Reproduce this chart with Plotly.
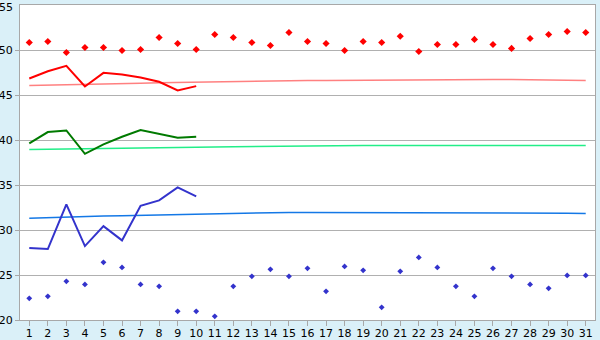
import plotly.graph_objects as go

days = list(range(1, 32))

red_points = [50.85, 50.96, 49.74, 50.3, 50.3, 49.96, 50.07, 51.41, 50.74, 50.07,
              51.74, 51.41, 50.85, 50.52, 51.96, 50.96, 50.74, 49.96, 50.96, 50.85,
              51.55, 49.85, 50.63, 50.63, 51.19, 50.63, 50.19, 51.3, 51.74, 52.07, 51.96]
red_line = [46.85, 47.65, 48.26, 45.96, 47.48, 47.3, 46.96, 46.48, 45.52, 46.0]
red_avg = [46.07, 46.1, 46.17, 46.2, 46.24, 46.3, 46.33, 46.38, 46.42, 46.45,
           46.5, 46.52, 46.54, 46.56, 46.6, 46.62, 46.63, 46.65, 46.67, 46.69,
           46.7, 46.72, 46.74, 46.74, 46.74, 46.74, 46.74, 46.7, 46.66, 46.64, 46.63]

green_line = [39.63, 40.89, 41.07, 38.48, 39.52, 40.37, 41.11, 40.67, 40.26, 40.37]
green_avg = [38.96, 38.98, 39.0, 39.05, 39.07, 39.09, 39.12, 39.17, 39.19, 39.21,
             39.24, 39.27, 39.3, 39.32, 39.35, 39.38, 39.4, 39.41, 39.41, 39.41,
             39.41, 39.41, 39.41, 39.41, 39.41, 39.41, 39.41, 39.41, 39.41, 39.41, 39.41]

blue_line = [28.0, 27.89, 32.85, 28.22, 30.44, 28.85, 32.7, 33.3, 34.74, 33.74]
blue_avg = [31.3, 31.38, 31.44, 31.5, 31.55, 31.6, 31.64, 31.7, 31.76, 31.82,
            31.86, 31.9, 31.94, 31.96, 31.96, 31.96, 31.96, 31.96, 31.96, 31.96,
            31.96, 31.96, 31.96, 31.96, 31.96, 31.96, 31.96, 31.96, 31.92, 31.88, 31.85]
blue_points = [22.41, 22.63, 24.3, 23.96, 26.41, 25.85, 23.96, 23.74, 20.96, 20.96,
               20.41, 23.74, 24.85, 25.63, 24.85, 25.74, 23.19, 25.96, 25.52, 21.41,
               25.41, 26.96, 25.85, 23.74, 22.63, 25.74, 24.85, 23.96, 23.52, 24.96, 24.96]

y_ticks = [20, 25, 30, 35, 40, 45, 50, 55]
y_top = y_ticks[-1]

fig = go.Figure()
fig.add_trace(go.Scatter(x=days, y=red_avg, mode="lines",
                         line=dict(color="#FF8080", width=1.5)))
fig.add_trace(go.Scatter(x=days, y=green_avg, mode="lines",
                         line=dict(color="#22EE88", width=1.5)))
fig.add_trace(go.Scatter(x=days, y=blue_avg, mode="lines",
                         line=dict(color="#1478E6", width=1.5)))
fig.add_trace(go.Scatter(x=days[:10], y=red_line, mode="lines",
                         line=dict(color="#FF0000", width=2)))
fig.add_trace(go.Scatter(x=days[:10], y=green_line, mode="lines",
                         line=dict(color="#007A00", width=2)))
fig.add_trace(go.Scatter(x=days[:10], y=blue_line, mode="lines",
                         line=dict(color="#3333CC", width=2)))
fig.add_trace(go.Scatter(x=days, y=red_points, mode="markers",
                         marker=dict(symbol="diamond", size=5.5, color="#FF0000")))
fig.add_trace(go.Scatter(x=days, y=blue_points, mode="markers",
                         marker=dict(symbol="diamond", size=4.5, color="#3333CC")))

# top tick label as annotation (axis hides it at the figure edge)
fig.add_annotation(text=str(y_top), xref="paper", x=0, xanchor="right", xshift=-6,
                   yref="paper", y=1, yanchor="top", yshift=5, showarrow=False,
                   borderpad=0,
                   font=dict(family="DejaVu Sans", size=11, color="#000000"))

fig.update_layout(
    width=600, height=340,
    margin=dict(l=20, r=5, t=5, b=20),
    paper_bgcolor="#DAF0F8",
    plot_bgcolor="#FFFFFF",
    showlegend=False,
    font=dict(family="DejaVu Sans", size=11, color="#000000"),
)
fig.update_xaxes(range=[0.5, 31.5], tickvals=days, ticktext=[str(d) for d in days],
                 showgrid=False, showline=True, linecolor="#A8A8A8", linewidth=1,
                 mirror=True, ticks="outside", ticklen=5, tickcolor="#A8A8A8",
                 zeroline=False, tickfont=dict(size=11), automargin=False,
                 ticklabelstandoff=-2)
fig.update_yaxes(range=[20, 55.02], tickvals=y_ticks[:-1], showgrid=True, gridcolor="#B0B0B0",
                 gridwidth=1, showline=True, linecolor="#A8A8A8", linewidth=1,
                 mirror=True, ticks="outside", ticklen=4, tickcolor="#A8A8A8",
                 zeroline=False, tickfont=dict(size=11), automargin=False)

fig.write_html("out.html")
